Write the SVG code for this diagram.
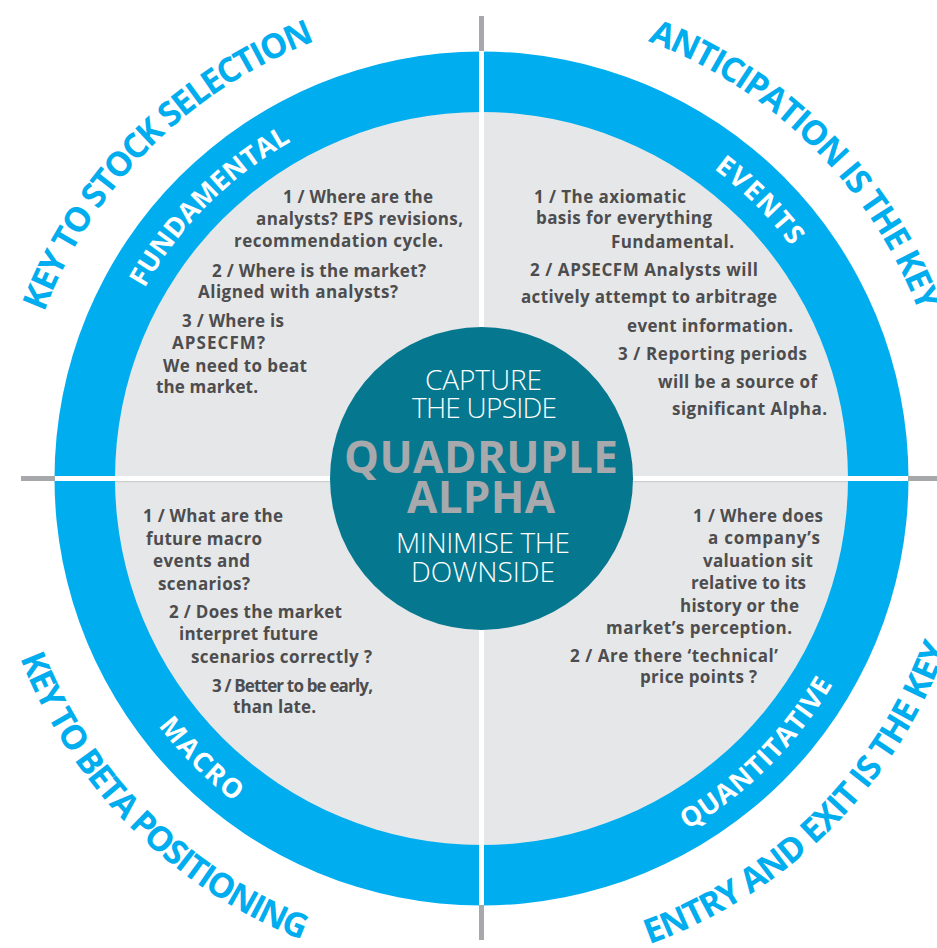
<svg xmlns="http://www.w3.org/2000/svg" width="937" height="948" viewBox="0 0 937 948">
<style>
.body{font-family:"Open Sans","Noto Sans","Liberation Sans",sans-serif;font-weight:700;font-size:17px;fill:#4d4d4f}
.outer{font-family:"Open Sans","Noto Sans","Liberation Sans",sans-serif;font-weight:700;font-size:34px;fill:#00adee}
.inner{font-family:"Open Sans","Noto Sans","Liberation Sans",sans-serif;font-weight:700;font-size:27px;fill:#ffffff}
.cl{font-family:"Open Sans","Noto Sans","Liberation Sans",sans-serif;font-weight:300;font-size:28px;fill:#ffffff;text-anchor:middle}
.cb{font-family:"Open Sans","Noto Sans","Liberation Sans",sans-serif;font-weight:700;font-size:44px;fill:#a7a9ac;text-anchor:middle}
.gl{fill:#a7a8ac}
.wl{fill:#ffffff}
</style>
<defs>
<path id="oTL" d="M 13.5 478.5 A 468 468 0 0 1 481.5 10.5"/>
<path id="oTR" d="M 481.5 10.5 A 468 468 0 0 1 949.5 478.5"/>
<path id="oBL" d="M -13.5 478.5 A 495 495 0 0 0 481.5 973.5"/>
<path id="oBR" d="M 481.5 973.5 A 495 495 0 0 0 976.5 478.5"/>
<path id="iTL" d="M 94.5 478.5 A 387 387 0 0 1 481.5 91.5"/>
<path id="iTR" d="M 481.5 91.5 A 387 387 0 0 1 868.5 478.5"/>
<path id="iBL" d="M 74.5 478.5 A 407 407 0 0 0 481.5 885.5"/>
<path id="iBR" d="M 481.5 885.5 A 407 407 0 0 0 888.5 478.5"/>
</defs>
<rect width="937" height="948" fill="#ffffff"/>
<g id="wheel">
<circle cx="481.5" cy="478.5" r="427" fill="#00adee"/>
<circle cx="481.5" cy="478.5" r="366.5" fill="#e6e7e8"/>
</g>
<g id="connectors">
<rect class="gl" x="479" y="16" width="5" height="35"/>
<rect class="gl" x="479" y="905" width="5" height="35"/>
<rect class="gl" x="21" y="476" width="34" height="5"/>
<rect class="gl" x="908" y="476" width="29" height="5"/>
<rect x="115" y="481" width="733" height="1.2" fill="#cdced0"/>
<rect class="wl" x="479" y="51" width="5" height="854"/>
<rect class="wl" x="55" y="476" width="853" height="5"/>
</g>
<g id="fundamental">
<text class="outer"><textPath href="#oTL" startOffset="50%" text-anchor="middle" textLength="395">KEY TO STOCK SELECTION</textPath></text>
<text class="inner"><textPath href="#iTL" startOffset="50%" text-anchor="middle" textLength="210">FUNDAMENTAL</textPath></text>
<text class="body" x="283" y="203" textLength="150">1 / Where are the</text>
<text class="body" x="256" y="225" textLength="207">analysts? EPS revisions,</text>
<text class="body" x="234" y="247" textLength="209">recommendation cycle.</text>
<text class="body" x="212" y="277" textLength="214">2 / Where is the market?</text>
<text class="body" x="198" y="298" textLength="200">Aligned with analysts?</text>
<text class="body" x="182" y="327" textLength="102">3 / Where is</text>
<text class="body" x="172" y="349" textLength="93">APSECFM?</text>
<text class="body" x="163" y="372" textLength="144">We need to beat</text>
<text class="body" x="156" y="393" textLength="102">the market.</text>
</g>
<g id="events">
<text class="outer"><textPath href="#oTR" startOffset="50%" text-anchor="middle" textLength="395">ANTICIPATION IS THE KEY</textPath></text>
<text class="inner"><textPath href="#iTR" startOffset="50%" text-anchor="middle" textLength="110">EVENTS</textPath></text>
<text class="body" x="534" y="203" textLength="152">1 / The axiomatic</text>
<text class="body" x="536" y="224" textLength="176">basis for everything</text>
<text class="body" x="611" y="248" textLength="123">Fundamental.</text>
<text class="body" x="530" y="276" textLength="228">2 / APSECFM Analysts will</text>
<text class="body" x="521" y="303" textLength="256">actively attempt to arbitrage</text>
<text class="body" x="627" y="332" textLength="166">event information.</text>
<text class="body" x="618" y="360" textLength="189">3 / Reporting periods</text>
<text class="body" x="658" y="388" textLength="159">will be a source of</text>
<text class="body" x="672" y="415" textLength="155">significant Alpha.</text>
</g>
<g id="macro">
<text class="outer"><textPath href="#oBL" startOffset="50%" text-anchor="middle" textLength="410">KEY TO BETA POSITIONING</textPath></text>
<text class="inner"><textPath href="#iBL" startOffset="50%" text-anchor="middle" textLength="108">MACRO</textPath></text>
<text class="body" x="143" y="522" textLength="140">1 / What are the</text>
<text class="body" x="146" y="545" textLength="116">future macro</text>
<text class="body" x="153" y="567" textLength="97">events and</text>
<text class="body" x="158" y="590" textLength="92">scenarios?</text>
<text class="body" x="169" y="618" textLength="173">2 / Does the market</text>
<text class="body" x="179" y="640" textLength="139">interpret future</text>
<text class="body" x="191" y="663" textLength="181">scenarios correctly ?</text>
<text class="body" x="212" y="692" textLength="161">3 / Better to be early,</text>
<text class="body" x="233" y="713" textLength="83">than late.</text>
</g>
<g id="quantitative">
<text class="outer"><textPath href="#oBR" startOffset="50%" text-anchor="middle" textLength="435">ENTRY AND EXIT IS THE KEY</textPath></text>
<text class="inner"><textPath href="#iBR" startOffset="50%" text-anchor="middle" textLength="208">QUANTITATIVE</textPath></text>
<text class="body" x="693" y="522" textLength="130">1 / Where does</text>
<text class="body" x="708" y="544" textLength="112">a company’s</text>
<text class="body" x="703" y="567" textLength="110">valuation sit</text>
<text class="body" x="691" y="589" textLength="115">relative to its</text>
<text class="body" x="680" y="612" textLength="119">history or the</text>
<text class="body" x="606" y="634" textLength="186">market’s perception.</text>
<text class="body" x="570" y="662" textLength="208">2 / Are there ‘technical’</text>
<text class="body" x="640" y="683" textLength="117">price points ?</text>
</g>
<g id="center">
<circle cx="481.5" cy="478.5" r="151.5" fill="#05778f"/>
<text class="cl" x="483.5" y="390" textLength="117">CAPTURE</text>
<text class="cl" x="484.5" y="418" textLength="145">THE UPSIDE</text>
<text class="cb" x="481" y="473" textLength="274">QUADRUPLE</text>
<text class="cb" x="481" y="513" textLength="148">ALPHA</text>
<text class="cl" x="483" y="553" textLength="174">MINIMISE THE</text>
<text class="cl" x="483" y="582" textLength="144">DOWNSIDE</text>
</g>
</svg>
